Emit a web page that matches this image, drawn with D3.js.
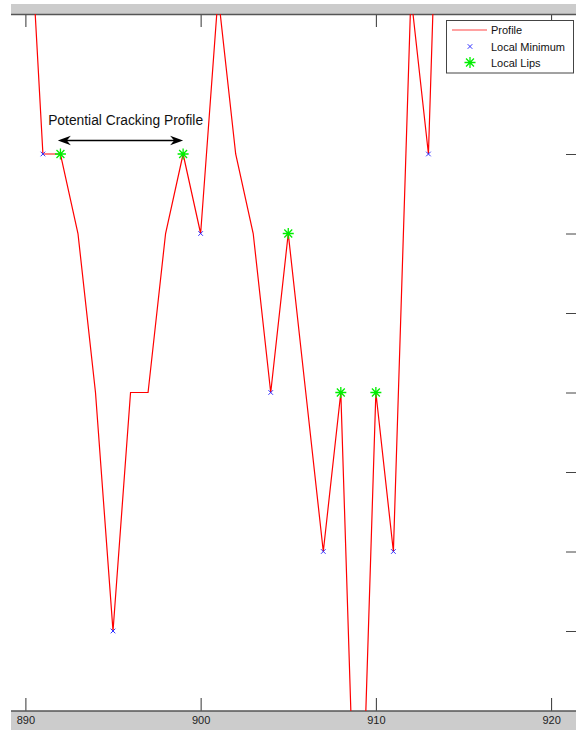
<!DOCTYPE html>
<html>
<head>
<meta charset="utf-8">
<script src="https://cdn.jsdelivr.net/npm/d3@7"></script>
<style>
  html, body { margin: 0; padding: 0; background: #fff; }
  svg { display: block; font-family: "Liberation Sans", Arial, sans-serif; }
</style>
</head>
<body>
<svg id="chart" width="576" height="730"></svg>
<script>
// Surface profile sampled at integer positions
const positions = [890, 891, 892, 893, 894, 895, 896, 897, 898, 899, 900, 901,
                   902, 903, 904, 905, 906, 907, 908, 909, 910, 911, 912, 913, 914];
const profile   = [11, 7, 7, 6, 4, 1, 4, 4, 6, 7, 6, 9,
                   7, 6, 4, 6, 4, 2, 4, -3, 4, 2, 9, 7, 14];
// Detected features (positions along the profile)
const localMinimum = [891, 895, 900, 904, 907, 909, 911, 913];
const localLips    = [892, 899, 905, 908, 910];
// Axis ticks
const xTicks = [890, 900, 910, 920];
const yTicks = [1, 2, 3, 4, 5, 6, 7];
const legendLabels = ["Profile", "Local Minimum", "Local Lips"];
const annotationText = "Potential Cracking Profile";
const spanStart = 891.85, spanEnd = 899, spanLevel = 7.17;

const valueAt = p => profile[positions.indexOf(p)];

const svg = d3.select("#chart");
const W = 576, H = 730;
const plot = { left: 11, right: 576, top: 14, bottom: 711 };

const x = d3.scaleLinear().domain([890, 920]).range([25.4, 551.1]);
const y = d3.scaleLinear().domain([0, 7]).range([710.5, 154]);

// Frame bands (top and bottom)
svg.append("rect").attr("x", plot.left).attr("y", 4).attr("width", W - plot.left).attr("height", plot.top - 4)
  .attr("fill", "#cccccc");
svg.append("rect").attr("x", plot.left).attr("y", plot.bottom).attr("width", W - plot.left).attr("height", H - plot.bottom)
  .attr("fill", "#cccccc");

// Clip region for data
svg.append("defs").append("clipPath").attr("id", "plotClip")
  .append("rect").attr("x", 0).attr("y", plot.top).attr("width", W).attr("height", plot.bottom - plot.top);

// Axes
const bottomAxis = d3.axisBottom(x).tickValues(xTicks).tickSizeInner(-13).tickSizeOuter(0).tickPadding(5)
  .tickFormat(d3.format("d"));
const gb = svg.append("g").attr("transform", `translate(0,${plot.bottom})`).call(bottomAxis);
gb.select(".domain").remove();
gb.selectAll(".tick line").attr("stroke", "#333");
gb.selectAll(".tick text").attr("font-size", 11).attr("fill", "#222")
  .attr("font-family", "'Liberation Sans', Arial, sans-serif");

const topAxis = d3.axisTop(x).tickValues(xTicks).tickSizeInner(-13).tickSizeOuter(0).tickFormat("");
const gt = svg.append("g").attr("transform", `translate(0,${plot.top})`).call(topAxis);
gt.select(".domain").remove();
gt.selectAll(".tick line").attr("stroke", "#333");

const rightAxis = d3.axisLeft(y).tickValues(yTicks).tickSizeInner(10).tickSizeOuter(0).tickFormat("");
const gr = svg.append("g").attr("transform", `translate(${W},0)`).call(rightAxis);
gr.select(".domain").remove();
gr.selectAll(".tick line").attr("stroke", "#444");

// Axis lines
svg.append("line").attr("x1", plot.left).attr("x2", W).attr("y1", plot.top + 0.5).attr("y2", plot.top + 0.5)
  .attr("stroke", "#555").attr("stroke-width", 1.5);
svg.append("line").attr("x1", plot.left).attr("x2", W).attr("y1", plot.bottom).attr("y2", plot.bottom)
  .attr("stroke", "#555").attr("stroke-width", 1.5);

// Data layer
const data = svg.append("g").attr("clip-path", "url(#plotClip)");

const line = d3.line().x((d, i) => x(positions[i])).y(d => y(d));
data.append("path").datum(profile).attr("d", line)
  .attr("fill", "none").attr("stroke", "#ff0000").attr("stroke-width", 1.2).attr("stroke-linejoin", "miter");

function xMark(g, cx, cy, r) {
  g.append("path").attr("d", `M${cx - r},${cy - r}L${cx + r},${cy + r}M${cx - r},${cy + r}L${cx + r},${cy - r}`)
    .attr("stroke", "#3333ff").attr("stroke-width", 1).attr("fill", "none");
}
function starMark(g, cx, cy, r) {
  const d = r * 0.72;
  g.append("path").attr("d",
    `M${cx - r},${cy}L${cx + r},${cy}M${cx},${cy - r}L${cx},${cy + r}` +
    `M${cx - d},${cy - d}L${cx + d},${cy + d}M${cx - d},${cy + d}L${cx + d},${cy - d}`)
    .attr("stroke", "#00ee00").attr("stroke-width", 1.3).attr("fill", "none");
}

localMinimum.forEach(p => xMark(data, x(p), y(valueAt(p)), 2.3));
localLips.forEach(p => starMark(data, x(p), y(valueAt(p)), 5.5));

// Annotation: double arrow across the cracking span
const ay = y(spanLevel), ax1 = x(spanStart), ax2 = x(spanEnd);
const ann = svg.append("g");
ann.append("line").attr("x1", ax1 + 4).attr("x2", ax2 - 4).attr("y1", ay).attr("y2", ay)
  .attr("stroke", "#000").attr("stroke-width", 1.4);
ann.append("path").attr("d", `M${ax1},${ay}L${ax1 + 13},${ay - 4.8}L${ax1 + 9},${ay}L${ax1 + 13},${ay + 4.8}Z`)
  .attr("fill", "#000");
ann.append("path").attr("d", `M${ax2},${ay}L${ax2 - 13},${ay - 4.8}L${ax2 - 9},${ay}L${ax2 - 13},${ay + 4.8}Z`)
  .attr("fill", "#000");
ann.append("text").attr("x", x(891.3)).attr("y", y(7.37))
  .attr("font-size", 13.8).attr("fill", "#111").text(annotationText);

// Legend
const lg = svg.append("g").attr("transform", "translate(446,20)");
lg.append("rect").attr("x", 0.5).attr("y", 0.5).attr("width", 127).attr("height", 52.5)
  .attr("fill", "#fff").attr("stroke", "#444").attr("stroke-width", 1);
const rowY = [10, 26.5, 42.5];
lg.append("line").attr("x1", 6).attr("x2", 41).attr("y1", rowY[0]).attr("y2", rowY[0])
  .attr("stroke", "#ff4444").attr("stroke-width", 1.2);
xMark(lg, 24, rowY[1], 2.3);
starMark(lg, 24, rowY[2], 5.5);
lg.selectAll("text.lab").data(legendLabels).join("text").attr("class", "lab")
  .attr("x", 45).attr("y", (d, i) => rowY[i] + 4)
  .attr("font-size", 11).attr("fill", "#111").text(d => d);
</script>
</body>
</html>
